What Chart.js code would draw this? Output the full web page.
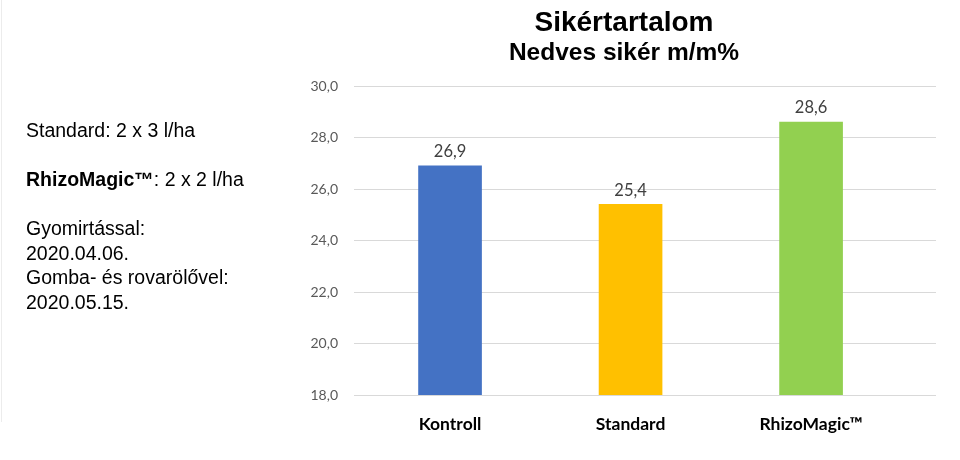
<!DOCTYPE html>
<html>
<head>
<meta charset="utf-8">
<script src="https://cdn.jsdelivr.net/npm/chart.js@4"></script>
<style>
  body { margin: 0; background: #fff; }
  #wrap { position: relative; width: 960px; height: 460px; }
  #edge { position: absolute; left: 1px; top: 0; height: 422px; border-left: 1px solid #ececec; }
  #title { position: absolute; left: 424px; width: 400px; top: 6px; text-align: center;
           font-family: "Liberation Sans", Arial, sans-serif; font-weight: bold; color: #000; }
  #title .t1 { font-size: 28px; line-height: 32px; }
  #title .t2 { font-size: 24.5px; line-height: 28px; }
  #notes { position: absolute; left: 26px; top: 118px; font-family: "Liberation Sans", Arial, sans-serif;
           font-size: 19.5px; line-height: 24.5px; color: #000; }
</style>
</head>
<body>
<div id="wrap">
  <canvas id="chart" width="960" height="460"></canvas>
  <div id="edge"></div>
  <div id="title"><div class="t1">Sikértartalom</div><div class="t2">Nedves sikér m/m%</div></div>
  <div id="notes">
    Standard: 2 x 3 l/ha<br><br>
    <b>RhizoMagic™</b>: 2 x 2 l/ha<br><br>
    Gyomirtással:<br>
    2020.04.06.<br>
    Gomba- és rovarölővel:<br>
    2020.05.15.
  </div>
</div>
<script>
const categories = ["Kontroll", "Standard", "RhizoMagic™"];
const values = [26.9, 25.4, 28.6];
const barColors = ["#4472C4", "#FFC000", "#92D050"];
const yTicks = [18, 20, 22, 24, 26, 28, 30];

function fmt(v) {
  return v.toFixed(1).replace(".", ",");
}

// value labels above the bars
const valueLabels = {
  id: "valueLabels",
  afterDatasetsDraw(chart) {
    const ctx = chart.ctx;
    const meta = chart.getDatasetMeta(0);
    ctx.save();
    ctx.font = "16.5px Lato, sans-serif";
    ctx.fillStyle = "#404040";
    ctx.textAlign = "center";
    ctx.textBaseline = "bottom";
    meta.data.forEach((bar, i) => {
      ctx.fillText(fmt(values[i]), bar.x, bar.y - 6);
    });
    ctx.restore();
  }
};

new Chart("chart", {
  type: "bar",
  data: {
    datasets: [{
      data: values.map((v, i) => ({ x: i, y: v })),
      backgroundColor: barColors,
      barThickness: 63
    }]
  },
  options: {
    responsive: false,
    animation: false,
    layout: { padding: { left: 290, right: 24, top: 86, bottom: 25 } },
    plugins: {
      legend: { display: false },
      tooltip: { enabled: false }
    },
    scales: {
      x: {
        type: "linear",
        offset: false,
        min: -0.532,
        max: 2.692,
        grid: { display: false },
        border: { display: false },
        afterBuildTicks: (scale) => {
          scale.ticks = categories.map((c, i) => ({ value: i }));
        },
        afterFit: (scale) => { scale.height = 40; },
        ticks: {
          padding: 11,
          color: "#000",
          font: { family: "Lato, sans-serif", size: 17.5, weight: "bold" },
          callback: (v) => categories[v] || ""
        }
      },
      y: {
        min: 18,
        max: 30,
        grid: { color: "#d9d9d9", drawTicks: false },
        border: { display: false },
        afterBuildTicks: (scale) => {
          scale.ticks = yTicks.map(v => ({ value: v }));
        },
        afterFit: (scale) => { scale.width = 64; },
        ticks: {
          padding: 16,
          color: "#595959",
          font: { family: "Lato, sans-serif", size: 14 },
          callback: (v) => fmt(v)
        }
      }
    }
  },
  plugins: [valueLabels]
});
</script>
</body>
</html>
